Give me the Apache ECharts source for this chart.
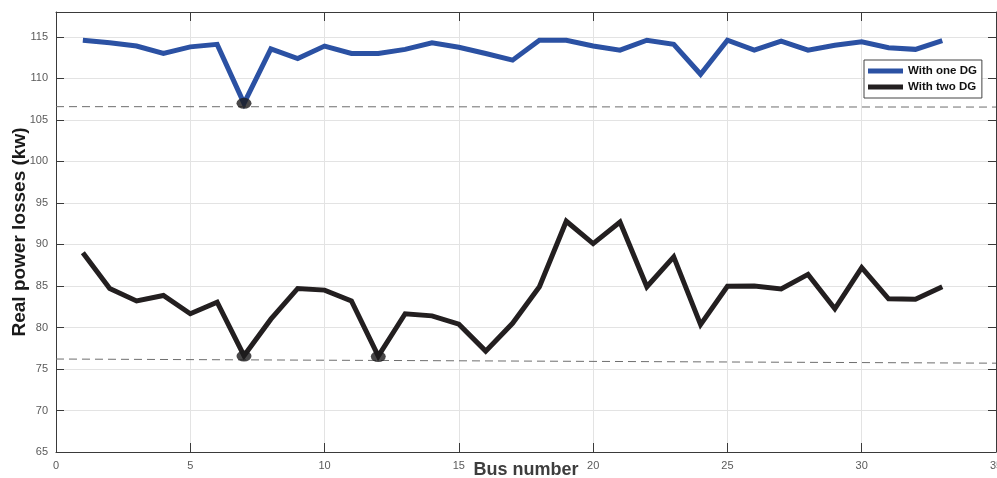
<!DOCTYPE html>
<html>
<head>
<meta charset="utf-8">
<script src="https://cdn.jsdelivr.net/npm/echarts@6/dist/echarts.min.js"></script>
<style>html,body{margin:0;padding:0;background:#fff}#c{width:997px;height:478px}</style>
</head>
<body>
<div id="c"></div>
<script>
const buses = [1,2,3,4,5,6,7,8,9,10,11,12,13,14,15,16,17,18,19,20,21,22,23,24,25,26,27,28,29,30,31,32,33];
const oneDG = [114.6,114.3,113.9,113.0,113.8,114.1,107.0,113.55,112.4,113.9,113.0,113.0,113.5,114.3,113.75,113.0,112.2,114.6,114.6,113.9,113.4,114.6,114.1,110.5,114.6,113.4,114.5,113.4,114.0,114.4,113.7,113.5,114.55];
const twoDG = [89.0,84.7,83.2,83.85,81.65,83.05,76.6,81.0,84.7,84.5,83.2,76.55,81.65,81.4,80.4,77.15,80.5,84.9,92.8,90.1,92.7,84.9,88.5,80.35,84.97,85.0,84.65,86.4,82.25,87.2,83.45,83.4,84.9];
const oneDGMinBus = [7];
const oneDGMinVal = [107.0];
const twoDGMinBus = [7, 12];
const twoDGMinVal = [76.55, 76.5];
const refLineOne = [[0,106.6],[35,106.55]];
const refLineTwo = [[0,76.2],[35,75.7]];
const seriesNames = ['With one DG','With two DG'];
const xTicks = {min:0, max:35, interval:5};
const yTicks = {min:65, max:118, interval:5};

const pairs = (xs, ys) => xs.map((x,i)=>[x, ys[i]]);
const font = 'Liberation Sans, Arial, sans-serif';
const blue = '#2b51a3', black = '#231f20';
const dash = {type:[8,5], color:'#6e6e6e', width:1};
const axLine = {show:true, onZero:false, lineStyle:{color:'#3a3a3a', width:1}};

const chart = echarts.init(document.getElementById('c'), null, {renderer:'canvas'});
chart.setOption({
  animation:false,
  backgroundColor:'#fff',
  grid:{left:56, right:1, top:12, bottom:26, show:false, containLabel:false, outerBoundsMode:'none'},
  legend:{
    data:seriesNames.map(n=>({name:n, icon:'rect'})),
    orient:'vertical', left:864, top:60,
    itemWidth:35, itemHeight:5, itemGap:4,
    padding:[5,5,5,4],
    borderColor:'#444', borderWidth:1, backgroundColor:'#fff',
    textStyle:{fontFamily:font, fontWeight:'bold', fontSize:11.5, color:'#111'}
  },
  xAxis:[{
    type:'value', min:xTicks.min, max:xTicks.max, interval:xTicks.interval,
    name:'Bus number', nameLocation:'middle', nameGap:9, nameMoveOverlap:false,
    nameTextStyle:{fontFamily:font, fontWeight:'bold', fontSize:18, color:'#3d3d3d'},
    axisLine:axLine,
    axisTick:{show:true, inside:true, length:9, lineStyle:{color:'#3a3a3a'}},
    axisLabel:{fontFamily:font, fontSize:11, color:'#5a5a5a', margin:8},
    splitLine:{show:true, lineStyle:{color:'#e3e3e3', width:1}}
  },{
    type:'value', position:'top', min:xTicks.min, max:xTicks.max, interval:xTicks.interval,
    axisLine:axLine,
    axisTick:{show:true, inside:true, length:9, lineStyle:{color:'#3a3a3a'}},
    axisLabel:{show:false}, splitLine:{show:false}
  }],
  yAxis:[{
    type:'value', min:yTicks.min, max:yTicks.max, interval:yTicks.interval,
    name:'Real power losses (kw)', nameLocation:'middle', nameGap:27, nameMoveOverlap:false,
    nameTextStyle:{fontFamily:font, fontWeight:'bold', fontSize:19, color:'#1a1a1a'},
    axisLine:axLine,
    axisTick:{show:true, inside:true, length:8, lineStyle:{color:'#3a3a3a'}},
    axisLabel:{fontFamily:font, fontSize:11, color:'#5a5a5a', margin:8,
      formatter:v => (v % 5 === 0 ? String(v) : '')},
    splitLine:{show:true, lineStyle:{color:'#e3e3e3', width:1}}
  },{
    type:'value', position:'right', min:yTicks.min, max:yTicks.max, interval:yTicks.interval,
    axisLine:axLine,
    axisTick:{show:true, inside:true, length:8, lineStyle:{color:'#3a3a3a'}},
    axisLabel:{show:false}, splitLine:{show:false}
  }],
  series:[
    {
      name:seriesNames[0], type:'line', data:pairs(buses, oneDG),
      showSymbol:false, symbol:'none',
      lineStyle:{color:blue, width:5, join:'miter'}, itemStyle:{color:blue},
      markLine:{silent:true, symbol:'none', label:{show:false},
        lineStyle:dash,
        data:[[{coord:refLineOne[0]},{coord:refLineOne[1]}]]}
    },
    {
      name:seriesNames[1], type:'line', data:pairs(buses, twoDG),
      showSymbol:false, symbol:'none',
      lineStyle:{color:black, width:5, join:'miter'}, itemStyle:{color:black},
      markLine:{silent:true, symbol:'none', label:{show:false},
        lineStyle:dash,
        data:[[{coord:refLineTwo[0]},{coord:refLineTwo[1]}]]}
    },
    {
      name:'min1', type:'scatter', data:pairs(oneDGMinBus, oneDGMinVal),
      symbol:'circle', symbolSize:[15,11], itemStyle:{color:'#1c1a1b'}, z:5
    },
    {
      name:'min2', type:'scatter', data:pairs(twoDGMinBus, twoDGMinVal),
      symbol:'circle', symbolSize:[15,11], itemStyle:{color:'#1c1a1b'}, z:5
    }
  ]
});
</script>
</body>
</html>
